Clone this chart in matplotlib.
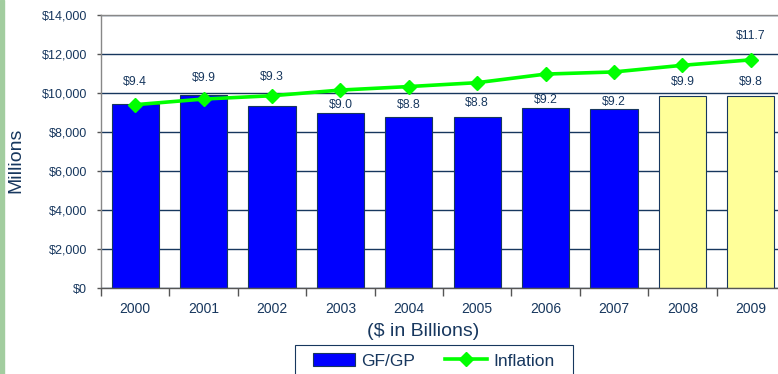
import matplotlib.pyplot as plt
from matplotlib.patches import Rectangle
import numpy as np

plt.rcParams['font.family'] = ['Liberation Sans', 'DejaVu Sans']

years = ['2000', '2001', '2002', '2003', '2004', '2005', '2006', '2007', '2008', '2009']
gfgp = [9440, 9900, 9330, 8970, 8780, 8780, 9250, 9160, 9870, 9870]
inflation = [9400, 9690, 9860, 10150, 10330, 10530, 10970, 11080, 11420, 11700]
bar_labels = ['$9.4', '$9.9', '$9.3', '$9.0', '$8.8', '$8.8', '$9.2', '$9.2', '$9.9', '$9.8']
projected = [False] * 8 + [True] * 2

navy = '#17375e'
# label offsets above bar tops (points), moved by hand around the line
label_offsets = [15.8, 12.2, 20.9, 5.8, 8.6, 10, 5.8, 5, 10, 10]

fig = plt.figure(figsize=(7.78, 3.74), dpi=100)
fig.patches.append(Rectangle((0, 0), 4 / 778, 1, transform=fig.transFigure,
                             color='#a2cd9f', zorder=0))

ax = fig.add_axes([101 / 778, 1 - 288 / 374, 684 / 778, 273 / 374])
x = np.arange(len(years))
colors = ['#ffff99' if p else '#0000ff' for p in projected]
bars = ax.bar(x, gfgp, width=0.69, color=colors, edgecolor=navy, linewidth=0.8,
              zorder=2, label='GF/GP')
line, = ax.plot(x, inflation, color='#00ff00', lw=2.6, marker='D', markersize=7,
                zorder=3, label='Inflation')

for xi, v, t, off in zip(x, gfgp, bar_labels, label_offsets):
    ax.annotate(t, (xi, v), xytext=(0, off), textcoords='offset points',
                ha='center', va='center', fontsize=8.8, color=navy)
ax.annotate('$11.7', (x[-1], inflation[-1]), xytext=(0, 17.3),
            textcoords='offset points', ha='center', va='center',
            fontsize=8.8, color=navy)

ax.set_xlim(-0.5, len(years) - 0.5)
ax.set_ylim(0, 14000)
ax.set_yticks(np.arange(0, 14001, 2000))
ax.set_yticklabels(['${:,}'.format(v) for v in range(0, 14001, 2000)])
ax.set_xticks(x)
ax.set_xticklabels(years)
ax.set_xticks(np.arange(-0.5, len(years)), minor=True)
ax.tick_params(axis='x', which='major', length=0, pad=10, labelsize=10, labelcolor=navy)
ax.tick_params(axis='x', which='minor', length=6, width=1, color='#555555', direction='out')
ax.tick_params(axis='y', length=3, width=1, color='#555555', pad=7, labelsize=9, labelcolor=navy)

ax.yaxis.grid(True, color=navy, lw=1)
ax.set_axisbelow(True)
for s in ['top', 'left', 'bottom']:
    ax.spines[s].set_color('#888888')
    ax.spines[s].set_linewidth(1)
ax.spines['bottom'].set_color('#555555')
ax.spines['right'].set_visible(False)

fig.text(16 / 778, 1 - 160 / 374, 'Millions', rotation=90, ha='center', va='center',
         fontsize=14, color=navy)
fig.text(423 / 778, 1 - 331 / 374, '($ in Billions)', ha='center', va='center',
         fontsize=14, color=navy)

# legend box runs off the bottom of the image
fig.patches.append(Rectangle((295 / 778, -0.05), 278 / 778, 0.05 + 29 / 374,
                             transform=fig.transFigure, fill=False,
                             edgecolor=navy, lw=0.8))
fig.legend([bars, line], ['GF/GP', 'Inflation'], loc='center left',
           bbox_to_anchor=(313 / 778, 1 - 361 / 374), ncol=2, fontsize=12.5,
           frameon=False, handlelength=2.4, handletextpad=0.4, columnspacing=1.7,
           borderpad=0, borderaxespad=0, labelcolor=navy)

fig.savefig('out.png', dpi=100)
